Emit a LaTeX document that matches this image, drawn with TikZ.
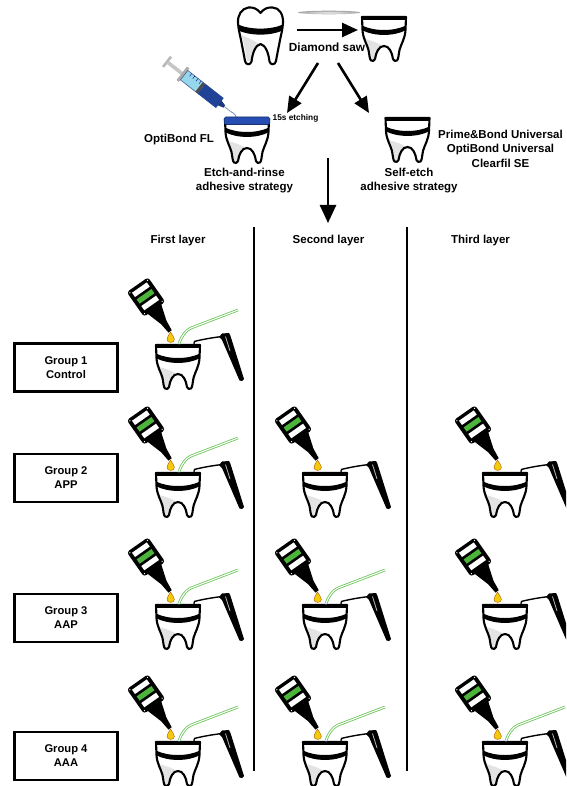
\documentclass[tikz,border=0pt]{standalone}
\usepackage{fontspec}
\setmainfont{Liberation Sans}
\usetikzlibrary{arrows.meta}

\definecolor{barGreen}{RGB}{76,180,58}
\definecolor{dropYellow}{RGB}{242,204,12}
\definecolor{brushGreen}{RGB}{105,195,85}
\definecolor{etchBlue}{RGB}{38,78,178}
\definecolor{barrelCyan}{RGB}{150,215,235}

\tikzset{
  toothline/.style={line width=2.1pt, line join=round},
  lbl/.style={font=\fontsize{11.5}{14.5}\selectfont\bfseries, align=center, inner sep=0pt},
  smalllbl/.style={font=\fontsize{8.3}{10}\selectfont\bfseries, inner sep=0pt},
  groupbox/.style={draw, line width=2.6pt, minimum width=103pt, minimum height=48pt,
    align=center, inner sep=0pt, font=\fontsize{11.2}{14}\selectfont\bfseries},
  bigarrow/.style={line width=2.6pt, -{Triangle[width=14pt,length=16pt]}},
  separator/.style={line width=2.2pt},
  brush/.style={draw=brushGreen, double=white, double distance=1.1pt, line width=.8pt},
  % tooth cut flat at the top, origin at the top centre
  cuttooth/.pic={
    \fill[white] (-22,0) -- (22,0) -- (21.5,13) .. controls (21,22) and (17,27) .. (15.5,33)
      .. controls (14.5,38) and (14.5,42) .. (13,43.5) .. controls (11.5,44.5) and (9.5,44) .. (9,42)
      .. controls (8,35) and (5,29) .. (0,29) .. controls (-5,29) and (-8,35) .. (-9,42)
      .. controls (-9.5,44) and (-11.5,44.5) .. (-13,43.5) .. controls (-14.5,42) and (-14.5,38) .. (-15.5,33)
      .. controls (-17,27) and (-21,22) .. (-21.5,13) -- cycle;
    \fill[gray!22] (-19,22) .. controls (-12,24) and (-5,26) .. (-1,29.5)
      .. controls (-6,31) and (-8.8,37) .. (-10.2,42.5) -- (-12.5,42.5)
      .. controls (-14,33) and (-16,26) .. cycle;
    \draw[toothline] (-22,0) -- (22,0) -- (21.5,13) .. controls (21,22) and (17,27) .. (15.5,33)
      .. controls (14.5,38) and (14.5,42) .. (13,43.5) .. controls (11.5,44.5) and (9.5,44) .. (9,42)
      .. controls (8,35) and (5,29) .. (0,29) .. controls (-5,29) and (-8,35) .. (-9,42)
      .. controls (-9.5,44) and (-11.5,44.5) .. (-13,43.5) .. controls (-14.5,42) and (-14.5,38) .. (-15.5,33)
      .. controls (-17,27) and (-21,22) .. (-21.5,13) -- cycle;
    \fill (-22,-0.5) rectangle (22,2.8);
    \fill (-22,8.5) .. controls (-10,14.5) and (10,14.5) .. (22,8.5) -- (21.8,13.2)
      .. controls (10,19.5) and (-10,19.5) .. (-21.8,13.2) -- cycle;
  },
  % whole molar with crown, origin at the top centre
  fulltooth/.pic={
    \fill[white] (0,6) .. controls (-3,2) and (-7,0) .. (-12,0.5) .. controls (-19,1.5) and (-23,8) .. (-22.5,16)
      .. controls (-22,23) and (-20.5,28) .. (-19.5,33) .. controls (-18,41) and (-16.5,48) .. (-15.5,54)
      .. controls (-15,58) and (-10,58.5) .. (-9,54.5) .. controls (-8,46) and (-5,38) .. (0,37)
      .. controls (5,38) and (8,46) .. (9,54.5) .. controls (10,58.5) and (15,58) .. (15.5,54)
      .. controls (16.5,48) and (18,41) .. (19.5,33) .. controls (20.5,28) and (22,23) .. (22.5,16)
      .. controls (23,8) and (19,0.5) .. (12,0.5) .. controls (7,0) and (3,2) .. (0,6) -- cycle;
    \fill[gray!22] (-19,28) .. controls (-12,31) and (-5,34) .. (-1,37.5)
      .. controls (-6,40) and (-8.5,47) .. (-10.2,54) -- (-13.5,54)
      .. controls (-15,44) and (-17,34) .. cycle;
    \draw[toothline] (0,6) .. controls (-3,2) and (-7,0) .. (-12,0.5) .. controls (-19,1.5) and (-23,8) .. (-22.5,16)
      .. controls (-22,23) and (-20.5,28) .. (-19.5,33) .. controls (-18,41) and (-16.5,48) .. (-15.5,54)
      .. controls (-15,58) and (-10,58.5) .. (-9,54.5) .. controls (-8,46) and (-5,38) .. (0,37)
      .. controls (5,38) and (8,46) .. (9,54.5) .. controls (10,58.5) and (15,58) .. (15.5,54)
      .. controls (16.5,48) and (18,41) .. (19.5,33) .. controls (20.5,28) and (22,23) .. (22.5,16)
      .. controls (23,8) and (19,0.5) .. (12,0.5) .. controls (7,0) and (3,2) .. (0,6) -- cycle;
    \fill (-22.6,17.5) .. controls (-10,23) and (10,23) .. (22.6,17.5) -- (22.2,23.5)
      .. controls (10,29) and (-10,29) .. (-22.2,23.5) -- cycle;
  },
  % adhesive bottle, origin at the body centre, nozzle pointing down-right
  bottle/.pic={
    \begin{scope}[rotate=35]
      \fill[rounded corners=3pt] (-13,-15) rectangle (13,15);
      \fill (-8.5,14) -- (8.5,14) -- (3.2,31) -- (2,42) -- (-2,42) -- (-3.2,31) -- cycle;
      \fill[white] (-9,-11.5) rectangle (9,-6.3);
      \fill[barGreen] (-9,-3.4) rectangle (9,1.8);
      \fill[white] (-9,4.7) rectangle (9,9.9);
      \foreach \px/\py in {-10.8/-12.8, 10.8/-12.8, -10.8/12.8, 10.8/12.8}
        \fill[white] (\px,\py) circle (.7);
    \end{scope}
  },
  % light-curing unit: thin light guide and tapered handle
  lamp/.pic={
    \draw[line width=1.4pt, line cap=round] (16,-1.5) -- (16.6,-3.6)
      .. controls (26,-6) and (36,-7.5) .. (44,-8.5);
    \fill (41,-8) -- (44,-11.5) -- (51,-12) -- (52.5,-9) -- (66,34)
      .. controls (65.5,36) and (62.5,37) .. (61.5,35.5) -- (44,-5) -- cycle;
    \draw[gray!55, line width=.8pt] (47.5,-8.5) -- (52,6);
  },
  % one application step without rubbing
  layerP/.pic={
    \pic {cuttooth};
    \pic at (-32,-48) {bottle};
    \filldraw[fill=dropYellow, draw=orange!70!black, line width=.4pt]
      (-7.5,-13) .. controls (-5.5,-9.5) and (-3.6,-7.5) .. (-3.6,-5.6)
      .. controls (-3.6,-3.6) and (-5.4,-2.6) .. (-7.3,-2.6)
      .. controls (-9.2,-2.6) and (-11,-3.6) .. (-11,-5.6)
      .. controls (-11,-7.5) and (-9.5,-9.5) .. cycle;
    \pic {lamp};
  },
  % one application step with active rubbing by a microbrush
  layerA/.pic={
    \pic {layerP};
    \draw[brush] (60,-35) -- (13,-17) .. controls (8,-15) and (3,-8) .. (1,-1.5);
    \fill[cyan!25] (1,-1.5) circle (1);
  },
}

\begin{document}
\begin{tikzpicture}[x=1pt,y=-1pt]
\useasboundingbox (0,0) rectangle (566,786);
\clip (0,0) rectangle (566,786);

% ---- sectioning the tooth ----
\pic at (260.5,7) {fulltooth};
\shade[inner color=gray!12, outer color=gray!70] (329,12.5) ellipse (31 and 1.8);
\pic at (384,17) {cuttooth};
\coordinate (sawFrom) at (297,30);
\coordinate (sawTo) at (358,30);
\draw[bigarrow] (sawFrom) -- (sawTo);
\node[lbl, font=\fontsize{11.8}{14}\selectfont\bfseries] (saw) at (327,47) {Diamond saw};

\coordinate (splitL) at (318,63);
\coordinate (splitR) at (338,63);
\coordinate (erTip) at (287,113);
\coordinate (seTip) at (369,113);
\draw[bigarrow] (splitL) -- (erTip);
\draw[bigarrow] (splitR) -- (seTip);

% ---- etch-and-rinse branch ----
\begin{scope}[shift={(166,61)}, rotate=-38]
  \fill[gray!55] (0,-6.5) rectangle (2.6,6.5);
  \fill[gray!45] (2.6,-1.8) rectangle (21,1.8);
  \fill[gray!65] (20,-8.5) rectangle (23,8.5);
  \filldraw[fill=barrelCyan, draw=cyan!40!blue!70!black, line width=.6pt] (23,-6) rectangle (68,6);
  \fill[etchBlue!85!black] (45,-6) rectangle (68,6);
  \fill[black!70] (42,-6) rectangle (45,6);
  \foreach \t in {28,32,36,40}
    \draw[blue!50!black, line width=.4pt] (\t,-6) -- (\t,-2.5);
  \fill[etchBlue!70!black] (68,-3) -- (74,-1.4) -- (74,1.4) -- (68,3) -- cycle;
  \draw[cyan!30!gray, line width=.8pt] (74,0) -- (82,0) coordinate (needle);
\end{scope}
\coordinate (etchDrop) at (237,119);
\draw[cyan!35!blue!55, line width=.9pt] (needle) .. controls (235,114) .. (etchDrop);

\pic at (247,119) {cuttooth};
\filldraw[fill=etchBlue, draw=etchBlue!60!black, line width=.6pt, rounded corners=1.5pt]
  (224.2,117) -- (269.8,117) -- (269.8,124.5) -- (224.2,124.5) -- cycle;
\node[smalllbl] (etch) at (295.5,118) {15s etching};
\node[lbl] (fl) at (179,140) {OptiBond FL};
\node[lbl] (er) at (244.5,180.5) {Etch-and-rinse\\adhesive strategy};

% ---- self-etch branch ----
\pic at (407.5,118) {cuttooth};
\node[lbl] (se) at (409,180.5) {Self-etch\\adhesive strategy};
\node[lbl] (univ) at (500.5,148.5) {Prime\&Bond Universal\\OptiBond Universal\\Clearfil SE};

% ---- bonding protocols ----
\coordinate (downFrom) at (328,158);
\coordinate (downTo) at (328,223);
\draw[bigarrow, -{Triangle[width=16pt,length=18pt]}] (downFrom) -- (downTo);

\coordinate (sepAtop) at (254,227);
\coordinate (sepAbot) at (254,771);
\coordinate (sepBtop) at (407,227);
\coordinate (sepBbot) at (407,771);
\draw[separator] (sepAtop) -- (sepAbot);
\draw[separator] (sepBtop) -- (sepBbot);

\node[lbl] (l1) at (178,241) {First layer};
\node[lbl] (l2) at (328.5,241) {Second layer};
\node[lbl] (l3) at (480.5,241) {Third layer};

\node[groupbox] (g1) at (66,367.5) {Group 1\\Control};
\node[groupbox] (g2) at (66,478) {Group 2\\APP};
\node[groupbox] (g3) at (66,618) {Group 3\\AAP};
\node[groupbox] (g4) at (66,756) {Group 4\\AAA};

% Group 1
\pic at (178,345) {layerA};
% Group 2
\pic at (178,473) {layerA};
\pic at (325,473) {layerP};
\pic at (505,473) {layerP};
% Group 3
\pic at (178,605) {layerA};
\pic at (325,605) {layerA};
\pic at (505,605) {layerP};
% Group 4
\pic at (178,742) {layerA};
\pic at (325,742) {layerA};
\pic at (505,742) {layerA};
\end{tikzpicture}
\end{document}
